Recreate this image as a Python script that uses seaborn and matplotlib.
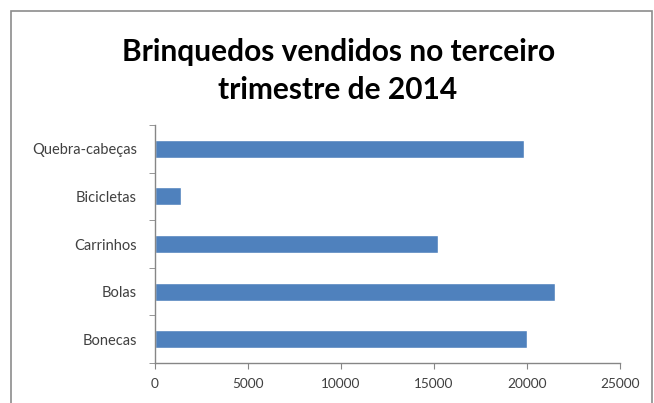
import matplotlib
matplotlib.use('Agg')
import matplotlib.pyplot as plt
from matplotlib.patches import Rectangle
from matplotlib.ticker import FixedLocator
import seaborn as sns
import pandas as pd

brinquedos = ['Quebra-cabeças', 'Bicicletas', 'Carrinhos', 'Bolas', 'Bonecas']
vendidos = [19850, 1400, 15200, 21500, 20000]
x_ticks = [0, 5000, 10000, 15000, 20000, 25000]

sns.set_style('white')
plt.rcParams['font.family'] = ['Lato', 'DejaVu Sans']

df = pd.DataFrame({'Brinquedo': brinquedos, 'Vendidos': vendidos})

fig = plt.figure(figsize=(6.54, 4.03), dpi=100)
ax = fig.add_axes([0.237, 0.099, 0.711, 0.591])

sns.barplot(x='Vendidos', y='Brinquedo', data=df, color='#4F81BD',
            saturation=1, width=0.38, orient='h', ax=ax)

ax.set_xlim(0, 25000)
ax.set_ylim(len(brinquedos) - 0.5, -0.5)
ax.set_xticks(x_ticks)
ax.set_xticklabels([str(t) for t in x_ticks])
ax.set_xlabel('')
ax.set_ylabel('')

for s in ['top', 'right']:
    ax.spines[s].set_visible(False)
for s in ['left', 'bottom']:
    ax.spines[s].set_color('#868686')
    ax.spines[s].set_linewidth(1)

ax.yaxis.set_minor_locator(FixedLocator([i - 0.5 for i in range(len(brinquedos) + 1)]))
ax.tick_params(axis='y', which='major', length=0, pad=13, labelsize=10.5, labelcolor='#404040')
ax.tick_params(axis='y', which='minor', length=4, color='#868686', direction='out', left=True)
ax.tick_params(axis='x', which='major', length=4, color='#868686', direction='out', bottom=True,
               pad=7, labelsize=9.8, labelcolor='#404040')

fig.text(0.517, 0.872, 'Brinquedos vendidos no terceiro', ha='center', va='center',
         fontsize=21.5, fontweight='bold', color='black')
fig.text(0.517, 0.777, 'trimestre de 2014', ha='center', va='center',
         fontsize=21.5, fontweight='bold', color='black')

fig.patches.append(Rectangle((11 / 654, -0.05), 641 / 654, 1.05 - 11 / 403,
                             transform=fig.transFigure, fill=False,
                             edgecolor='#8c8c8c', linewidth=1.2))

fig.savefig('out.png', dpi=100)
